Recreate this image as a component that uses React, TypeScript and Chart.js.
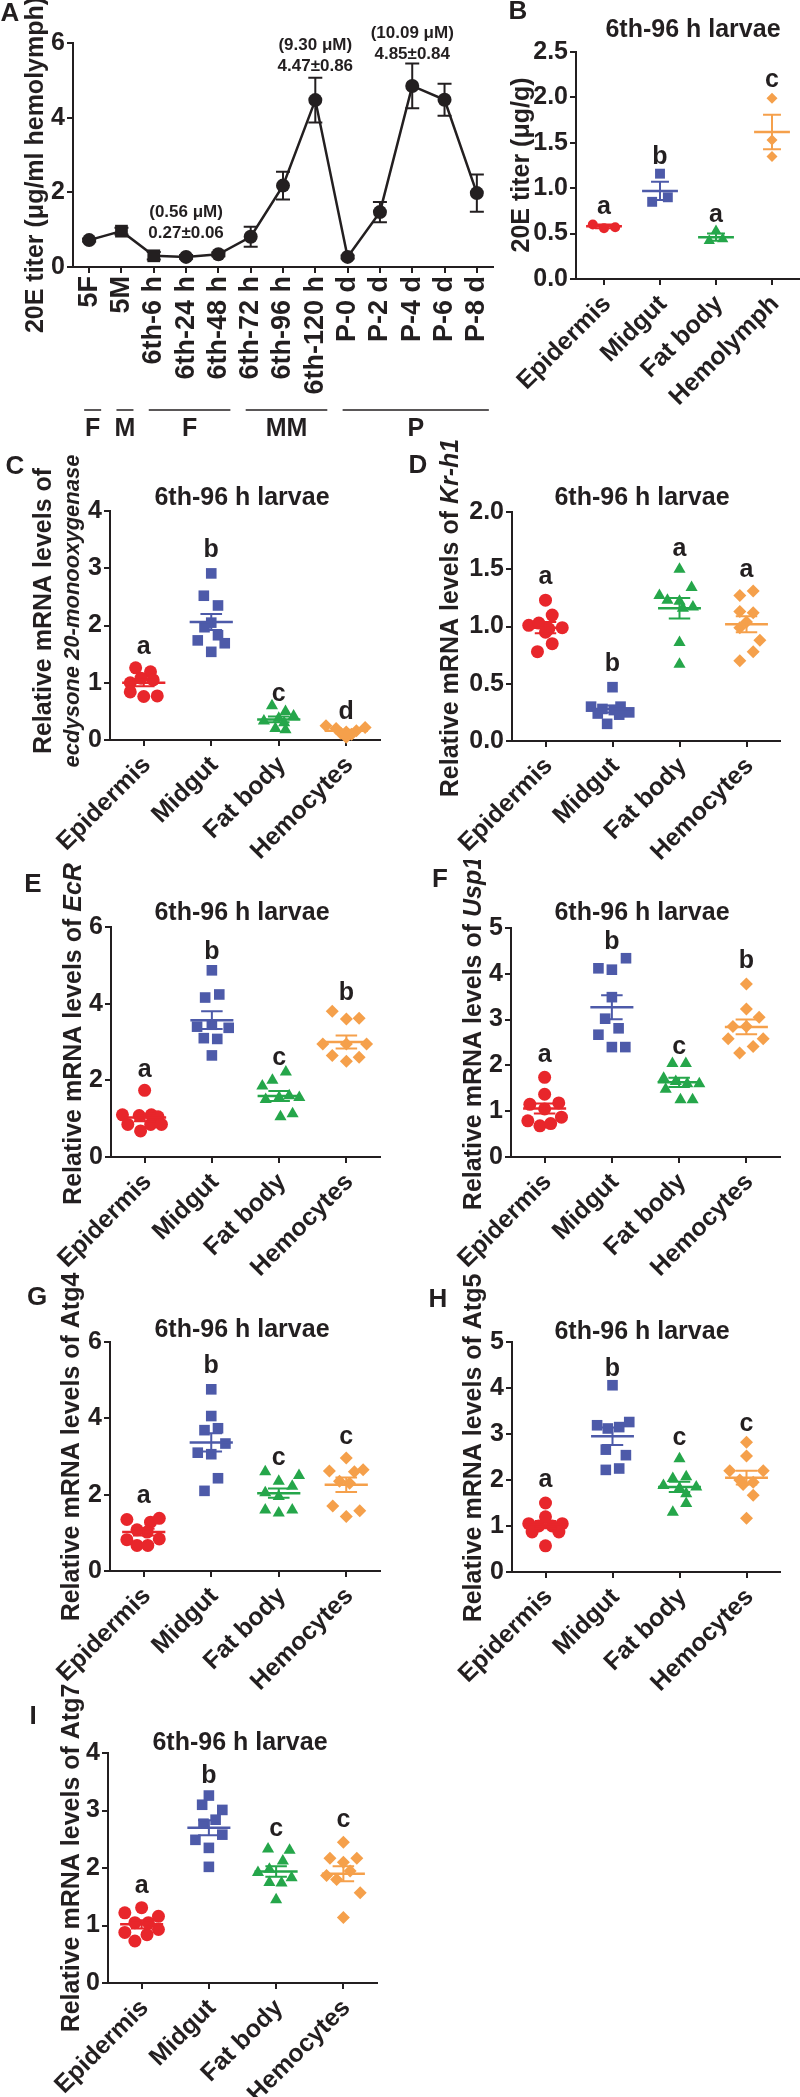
import React, { useEffect, useRef } from 'react';
import { Chart, registerables } from 'chart.js';

Chart.register(...registerables);

// ======================= DATA =======================
// Panel A – 20E titer in hemolymph across developmental stages
const stageLabels = ['5F', '5M', '6th-6 h', '6th-24 h', '6th-48 h', '6th-72 h', '6th-96 h', '6th-120 h', 'P-0 d', 'P-2 d', 'P-4 d', 'P-6 d', 'P-8 d'];
const titerMean = [0.72, 0.96, 0.3, 0.27, 0.34, 0.81, 2.18, 4.47, 0.27, 1.47, 4.85, 4.48, 1.98];
const titerSem = [0.04, 0.09, 0.1, 0.05, 0.05, 0.27, 0.37, 0.6, 0.04, 0.27, 0.6, 0.43, 0.5];
const stageGroupLabels = ['F', 'M', 'F', 'MM', 'P'];
const stageGroupFirst = [0, 1, 2, 5, 8];
const stageGroupLast = [0, 1, 4, 7, 12];
const noteStage = [3, 7, 10];
const noteConc = ['(0.56 μM)', '(9.30 μM)', '(10.09 μM)'];
const noteTiter = ['0.27±0.06', '4.47±0.86', '4.85±0.84'];
const noteLevel = [1.47, 5.95, 6.27];

// Panel B – 20E titer in tissues
const tissuesB = ['Epidermis', 'Midgut', 'Fat body', 'Hemolymph'];
const bValues = [[0.6, 0.56, 0.57], [1.16, 0.85, 0.9], [0.53, 0.42, 0.44], [1.99, 1.53, 1.35]];
const bOffsets = [[-0.2, 0, 0.2], [0, -0.14, 0.14], [0, -0.12, 0.12], [0, 0, 0]];
const bMean = [0.58, 0.97, 0.46, 1.62];
const bSem = [0.02, 0.1, 0.04, 0.19];
const bLetters = ['a', 'b', 'a', 'c'];
const bLetterY = [0.79, 1.34, 0.7, 2.19];

const tissues = ['Epidermis', 'Midgut', 'Fat body', 'Hemocytes'];

// Panel C – ecdysone 20-monooxygenase
const cValues = [
  [1.26, 1.19, 1.08, 1.05, 1.0, 0.84, 0.76, 0.77],
  [2.91, 2.52, 2.35, 2.05, 1.97, 1.83, 1.74, 1.69, 1.54],
  [0.6, 0.5, 0.42, 0.38, 0.33, 0.3, 0.2, 0.18],
  [0.25, 0.22, 0.2, 0.16, 0.14, 0.12, 0.1, 0.05],
];
const cOffsets = [
  [-0.12, 0.1, -0.04, 0.14, -0.2, -0.2, 0.0, 0.2],
  [0.0, -0.11, 0.1, 0.0, -0.1, 0.1, -0.2, 0.2, 0.0],
  [-0.1, 0.1, 0.22, 0.0, -0.22, 0.08, -0.05, 0.1],
  [-0.3, 0.28, -0.15, 0.15, 0.0, -0.08, 0.08, 0.0],
];
const cMean = [1.0, 2.06, 0.36, 0.16];
const cSem = [0.06, 0.14, 0.05, 0.02];
const cLetters = ['a', 'b', 'c', 'd'];
const cLetterY = [1.63, 3.31, 0.81, 0.49];

// Panel D – Kr-h1
const dValues = [
  [1.23, 1.1, 1.01, 1.03, 0.99, 0.98, 0.95, 0.85, 0.78],
  [0.47, 0.3, 0.28, 0.3, 0.25, 0.24, 0.23, 0.15, 0.27],
  [1.5, 1.34, 1.27, 1.23, 1.22, 1.17, 1.16, 0.86, 0.67],
  [1.27, 1.31, 1.13, 1.12, 1.04, 0.99, 0.88, 0.78, 0.7],
];
const dOffsets = [
  [0.0, 0.1, -0.25, -0.1, 0.25, 0.05, 0.0, 0.1, -0.12],
  [0.0, -0.32, -0.15, 0.12, 0.25, -0.22, 0.1, -0.08, 0.02],
  [0.0, 0.18, -0.3, -0.18, 0.0, 0.2, 0.05, 0.0, 0.0],
  [-0.1, 0.1, -0.1, 0.1, 0.0, -0.1, 0.2, 0.1, -0.1],
];
const dMean = [0.99, 0.28, 1.16, 1.02];
const dSem = [0.05, 0.03, 0.09, 0.07];
const dLetters = ['a', 'b', 'a', 'a'];
const dLetterY = [1.43, 0.67, 1.68, 1.49];

// Panel E – EcR
const eValues = [
  [1.74, 1.1, 1.08, 1.1, 1.05, 0.85, 0.68, 0.85, 0.85],
  [4.87, 4.16, 4.24, 3.4, 3.45, 3.37, 3.1, 3.08, 2.65],
  [2.22, 2.0, 1.85, 1.5, 1.55, 1.55, 1.6, 1.05, 1.13],
  [3.8, 3.6, 3.62, 2.95, 2.95, 2.95, 2.65, 2.5, 2.6],
];
const eOffsets = [
  [0.0, -0.33, -0.08, 0.1, 0.2, -0.25, -0.06, 0.09, 0.25],
  [0.0, -0.1, 0.11, -0.22, 0.0, 0.25, -0.12, 0.08, 0.0],
  [0.1, -0.1, -0.25, -0.2, 0.0, 0.3, 0.15, 0.02, 0.2],
  [-0.21, 0.0, 0.19, -0.35, 0.0, 0.3, -0.21, 0.0, 0.19],
];
const eMean = [1.03, 3.57, 1.59, 3.0];
const eSem = [0.1, 0.23, 0.13, 0.17];
const eLetters = ['a', 'b', 'c', 'b'];
const eLetterY = [2.27, 5.35, 2.58, 4.28];

// Panel F – Usp1
const fValues = [
  [1.74, 1.37, 1.15, 1.18, 1.05, 0.79, 0.87, 0.68, 0.73],
  [4.12, 4.09, 4.34, 3.49, 3.02, 2.81, 2.67, 2.4, 2.4],
  [2.04, 2.04, 1.72, 1.65, 1.6, 1.6, 1.48, 1.25, 1.25],
  [3.78, 3.23, 3.05, 2.85, 2.85, 2.58, 2.58, 2.27, 2.41],
];
const fOffsets = [
  [0.0, 0.0, -0.22, 0.21, 0.0, -0.25, 0.25, -0.07, 0.09],
  [-0.2, 0.0, 0.21, 0.0, -0.1, 0.1, -0.2, 0.0, 0.2],
  [-0.1, 0.1, -0.23, -0.05, 0.12, 0.3, -0.2, 0.02, 0.2],
  [0.0, 0.0, 0.19, -0.2, 0.0, -0.27, 0.25, -0.1, 0.1],
];
const fMean = [1.06, 3.27, 1.63, 2.84];
const fSem = [0.11, 0.26, 0.1, 0.16];
const fLetters = ['a', 'b', 'c', 'b'];
const fLetterY = [2.23, 4.7, 2.41, 4.27];

// Panel G – Atg4
const gValues = [
  [1.35, 1.28, 1.38, 1.08, 1.02, 0.82, 0.84, 0.67, 0.67],
  [4.76, 4.06, 3.69, 3.74, 3.34, 3.1, 3.06, 2.43, 2.1],
  [2.6, 2.5, 2.35, 2.22, 2.05, 1.95, 1.6, 1.52, 1.6],
  [2.96, 2.62, 2.65, 2.6, 2.35, 2.3, 1.7, 1.58, 1.43],
];
const gOffsets = [
  [-0.25, 0.1, 0.23, -0.1, 0.05, -0.25, 0.23, -0.1, 0.06],
  [0.0, 0.0, -0.1, 0.1, 0.21, -0.2, 0.0, 0.1, -0.1],
  [-0.2, 0.3, 0.0, 0.2, -0.2, 0.0, -0.2, 0.0, 0.2],
  [0.0, -0.25, 0.25, 0.12, -0.1, 0.05, -0.2, 0.2, 0.0],
];
const gMean = [1.02, 3.37, 2.04, 2.26];
const gSem = [0.09, 0.24, 0.12, 0.19];
const gLetters = ['a', 'b', 'c', 'c'];
const gLetterY = [1.97, 5.37, 2.97, 3.51];

// Panel H – Atg5
const hValues = [
  [1.5, 1.2, 1.05, 1.05, 1.0, 1.0, 0.87, 0.87, 0.57],
  [4.06, 3.19, 3.12, 3.15, 3.26, 2.66, 2.54, 2.22, 2.25],
  [2.46, 2.03, 2.07, 1.88, 1.85, 1.82, 1.7, 1.49, 1.3],
  [2.82, 2.52, 2.2, 2.2, 2.0, 1.95, 1.9, 1.67, 1.17],
];
const hOffsets = [
  [0.0, 0.0, -0.25, 0.25, -0.1, 0.1, -0.2, 0.2, 0.0],
  [0.0, -0.23, -0.07, 0.1, 0.25, -0.1, 0.2, -0.1, 0.1],
  [0.0, -0.1, 0.1, -0.24, 0.25, 0.0, 0.1, 0.1, -0.1],
  [0.0, 0.0, -0.25, 0.25, -0.1, 0.1, -0.05, 0.1, 0.0],
];
const hMean = [1.03, 2.95, 1.85, 2.05];
const hSem = [0.08, 0.19, 0.11, 0.15];
const hLetters = ['a', 'b', 'c', 'c'];
const hLetterY = [1.99, 4.42, 2.9, 3.21];

// Panel I – Atg7
const iValues = [
  [1.22, 1.31, 1.16, 1.05, 1.05, 0.88, 0.93, 0.84, 0.73],
  [3.26, 3.1, 3.01, 2.84, 2.77, 2.49, 2.58, 2.35, 2.02],
  [2.33, 2.31, 2.12, 1.92, 1.98, 1.75, 1.74, 1.83, 1.45],
  [2.45, 2.17, 2.17, 2.1, 1.87, 1.8, 1.95, 1.57, 1.14],
];
const iOffsets = [
  [-0.25, 0.0, 0.25, -0.1, 0.1, -0.25, 0.25, 0.08, -0.1],
  [0.0, -0.1, 0.2, 0.1, -0.08, -0.2, 0.2, 0.0, 0.0],
  [-0.12, 0.2, 0.1, -0.27, -0.1, -0.1, 0.08, 0.23, 0.0],
  [0.0, -0.2, 0.2, 0.0, -0.25, -0.1, 0.1, 0.25, 0.0],
];
const iMean = [1.02, 2.7, 1.94, 1.9];
const iSem = [0.07, 0.13, 0.09, 0.13];
const iLetters = ['a', 'b', 'c', 'c'];
const iLetterY = [1.68, 3.59, 2.67, 2.84];

const panelTitle = '6th-96 h larvae';

// ======================= STYLE =======================
const INK = '#231f20';
const TISSUE_COLORS = ['#e8262b', '#4d5aa9', '#25a64a', '#f5a04b'];
const TISSUE_STYLES = ['circle', 'rect', 'triangle', 'rectRot'];
const DOT_RADII = [6.5, 7.5, 7, 6.5];
const B_RADII = [5, 7, 6.5, 5.5];
const stageMarker = ['circle', 'rect', 'rect', 'circle', 'circle', 'circle', 'circle', 'circle', 'circle', 'circle', 'circle', 'circle', 'circle'];

// pick a family with Arial-Bold metrics; compensate size if none matches exactly
function pickFamily(): { family: string; scale: number } {
  const candidates = ['Liberation Sans', 'Arial', 'Arimo', 'Helvetica', 'DejaVu Sans'];
  const expected = 1144.8; // Arial Bold width of the probe at 100px
  const probe = 'Relative mRNA levels of';
  try {
    const c = document.createElement('canvas');
    const ctx = c.getContext('2d');
    if (!ctx) return { family: '"Liberation Sans", Arial, sans-serif', scale: 1 };
    let best = { family: candidates[0], ratio: 0 };
    for (const f of candidates) {
      ctx.font = `bold 100px "${f}", monospace`;
      const r = ctx.measureText(probe).width / expected;
      if (Math.abs(r - 1) < 0.03) return { family: `"${f}", Arial, sans-serif`, scale: 1 };
      if (Math.abs(r - 1) < Math.abs(best.ratio - 1)) best = { family: f, ratio: r };
    }
    return { family: `"${best.family}", Arial, sans-serif`, scale: best.ratio > 0 ? 1 / best.ratio : 1 };
  } catch (e) {
    return { family: '"Liberation Sans", Arial, sans-serif', scale: 1 };
  }
}
const PICK = pickFamily();
const FAMILY = PICK.family;
const S = (n: number) => Math.round(n * PICK.scale * 10) / 10;

const cssFont = (size: number, italic = false) => `${italic ? 'italic ' : ''}bold ${S(size)}px ${FAMILY}`;
const tickFont = { family: FAMILY, size: S(25), weight: 'bold' as const };
const stageTickFont = { family: FAMILY, size: S(27), weight: 'bold' as const };

type Part = { text: string; italic?: boolean };

function drawRotated(ctx: CanvasRenderingContext2D, parts: Part[], cx: number, cy: number, size: number) {
  ctx.save();
  ctx.translate(cx, cy);
  ctx.rotate(-Math.PI / 2);
  ctx.textAlign = 'left';
  ctx.textBaseline = 'middle';
  ctx.fillStyle = INK;
  const widths = parts.map((p) => {
    ctx.font = cssFont(size, p.italic);
    return ctx.measureText(p.text).width;
  });
  const total = widths.reduce((a, b) => a + b, 0);
  let x = -total / 2;
  parts.forEach((p, i) => {
    ctx.font = cssFont(size, p.italic);
    ctx.fillText(p.text, x, 0);
    x += widths[i];
  });
  ctx.restore();
}

const axisGrid = { drawOnChartArea: false, drawTicks: true, tickLength: 6, color: INK, lineWidth: 2 };
const axisBorder = { display: true, color: INK, width: 2 };

// ======================= PANEL A =======================
function StagePanel() {
  const ref = useRef<HTMLCanvasElement | null>(null);
  useEffect(() => {
    const canvas = ref.current;
    if (!canvas) return;
    const box = { x: 0, y: 0, w: 545, h: 445 };
    const area = { l: 73, r: 493, t: 43, b: 267 };
    const overlay = {
      id: 'stageOverlay',
      beforeDatasetsDraw(chart: any) {
        const { ctx } = chart;
        const xs = chart.scales.x;
        const ys = chart.scales.y;
        ctx.save();
        ctx.strokeStyle = INK;
        ctx.lineWidth = 2;
        titerMean.forEach((m, i) => {
          const px = xs.getPixelForValue(i);
          const top = ys.getPixelForValue(m + titerSem[i]);
          const bot = ys.getPixelForValue(m - titerSem[i]);
          ctx.beginPath();
          ctx.moveTo(px, top);
          ctx.lineTo(px, bot);
          ctx.moveTo(px - 7, top);
          ctx.lineTo(px + 7, top);
          ctx.moveTo(px - 7, bot);
          ctx.lineTo(px + 7, bot);
          ctx.stroke();
        });
        ctx.restore();
      },
      afterDraw(chart: any) {
        const { ctx } = chart;
        const xs = chart.scales.x;
        const ys = chart.scales.y;
        ctx.save();
        ctx.fillStyle = INK;
        ctx.textAlign = 'center';
        ctx.textBaseline = 'middle';
        ctx.font = cssFont(17);
        noteStage.forEach((s, k) => {
          const px = xs.getPixelForValue(s);
          const py = ys.getPixelForValue(noteLevel[k]);
          ctx.fillText(noteConc[k], px, py);
          ctx.fillText(noteTiter[k], px, py + 21);
        });
        ctx.strokeStyle = INK;
        ctx.lineWidth = 1.5;
        ctx.font = cssFont(25);
        stageGroupLabels.forEach((g, k) => {
          const x0 = xs.getPixelForValue(stageGroupFirst[k]) - 5;
          const x1 = xs.getPixelForValue(stageGroupLast[k]) + 12;
          ctx.beginPath();
          ctx.moveTo(x0, 410 - box.y);
          ctx.lineTo(x1, 410 - box.y);
          ctx.stroke();
          ctx.fillText(g, (x0 + x1) / 2, 429 - box.y);
        });
        ctx.font = cssFont(26);
        ctx.fillText('A', 10 - box.x, 14 - box.y);
        ctx.restore();
        drawRotated(ctx, [{ text: '20E titer (μg/ml hemolymph)' }], 36 - box.x, 165 - box.y, 25);
      },
    };
    const chart = new Chart(canvas, {
      type: 'line',
      data: {
        labels: stageLabels,
        datasets: [
          {
            data: titerMean,
            borderColor: INK,
            borderWidth: 2.5,
            tension: 0,
            pointStyle: stageMarker as any,
            pointRadius: stageMarker.map((s) => (s === 'rect' ? 9 : 7)),
            pointBackgroundColor: INK,
            pointBorderColor: INK,
            pointBorderWidth: 0,
            clip: false as any,
          },
        ],
      },
      options: {
        animation: false,
        responsive: false,
        devicePixelRatio: 1,
        layout: { padding: { left: 0, top: area.t - box.y, right: box.x + box.w - area.r, bottom: 0 } },
        plugins: { legend: { display: false }, tooltip: { enabled: false } },
        scales: {
          x: {
            type: 'category',
            offset: true,
            afterFit: (s: any) => {
              s.height = box.y + box.h - area.b;
            },
            ticks: { autoSkip: false, minRotation: 90, maxRotation: 90, font: stageTickFont, color: INK, padding: 3 },
            grid: { ...axisGrid, offset: false },
            border: axisBorder,
          },
          y: {
            min: 0,
            max: 6,
            afterFit: (s: any) => {
              s.width = area.l - box.x;
            },
            ticks: { stepSize: 2, font: tickFont, color: INK, padding: 2 },
            grid: axisGrid,
            border: axisBorder,
          },
        },
      } as any,
      plugins: [overlay],
    });
    return () => chart.destroy();
  }, []);
  return (
    <canvas ref={ref} width={545} height={445} style={{ position: 'absolute', left: 0, top: 0, width: 545, height: 445 }} />
  );
}

// ======================= DOT PANELS =======================
type DotSpec = {
  box: { x: number; y: number; w: number; h: number };
  area: { l: number; r: number; t: number; b: number };
  categories: string[];
  values: number[][];
  offsets: number[][];
  mean: number[];
  sem: number[];
  letters: string[];
  letterY: number[];
  yMax: number;
  yStep: number;
  yDecimals: number;
  radii: number[];
  title: { x: number; y: number };
  panel: { text: string; x: number; y: number };
  yTitle: { x: number; size: number; parts: Part[] }[];
  yTitleY: number;
};

function DotPanel({ spec }: { spec: DotSpec }) {
  const ref = useRef<HTMLCanvasElement | null>(null);
  useEffect(() => {
    const canvas = ref.current;
    if (!canvas) return;
    const { box, area } = spec;
    const X = (px: number) => px - box.x;
    const Y = (py: number) => py - box.y;
    const datasets = spec.values.map((vals, g) => ({
      label: spec.categories[g],
      data: vals.map((v, k) => ({ x: g + spec.offsets[g][k], y: v })),
      pointStyle: TISSUE_STYLES[g],
      pointRadius: spec.radii[g],
      pointBackgroundColor: TISSUE_COLORS[g],
      pointBorderColor: TISSUE_COLORS[g],
      pointBorderWidth: 0,
      showLine: false,
      clip: false as any,
    }));
    const overlay = {
      id: 'dotOverlay',
      afterDatasetsDraw(chart: any) {
        const { ctx } = chart;
        const xs = chart.scales.x;
        const ys = chart.scales.y;
        const unit = xs.getPixelForValue(1) - xs.getPixelForValue(0);
        ctx.save();
        spec.mean.forEach((m, g) => {
          const cx = xs.getPixelForValue(g);
          const pm = ys.getPixelForValue(m);
          const pt = ys.getPixelForValue(m + spec.sem[g]);
          const pb = ys.getPixelForValue(m - spec.sem[g]);
          ctx.strokeStyle = TISSUE_COLORS[g];
          ctx.lineWidth = 2.5;
          ctx.beginPath();
          ctx.moveTo(cx - 0.32 * unit, pm);
          ctx.lineTo(cx + 0.32 * unit, pm);
          ctx.stroke();
          ctx.lineWidth = 2;
          ctx.beginPath();
          ctx.moveTo(cx, pt);
          ctx.lineTo(cx, pb);
          ctx.moveTo(cx - 0.16 * unit, pt);
          ctx.lineTo(cx + 0.16 * unit, pt);
          ctx.moveTo(cx - 0.16 * unit, pb);
          ctx.lineTo(cx + 0.16 * unit, pb);
          ctx.stroke();
        });
        ctx.restore();
      },
      afterDraw(chart: any) {
        const { ctx } = chart;
        const xs = chart.scales.x;
        const ys = chart.scales.y;
        ctx.save();
        ctx.fillStyle = INK;
        // category labels along the x axis, rotated 45°, ending at their tick
        ctx.font = cssFont(25);
        ctx.textAlign = 'right';
        ctx.textBaseline = 'alphabetic';
        spec.categories.forEach((c, i) => {
          ctx.save();
          ctx.translate(xs.getPixelForValue(i) + 8, xs.top + 26);
          ctx.rotate(-Math.PI / 4);
          ctx.fillText(c, 0, 0);
          ctx.restore();
        });
        ctx.textAlign = 'center';
        ctx.textBaseline = 'middle';
        spec.letters.forEach((L, g) => {
          ctx.fillText(L, xs.getPixelForValue(g), ys.getPixelForValue(spec.letterY[g]));
        });
        ctx.fillText(panelTitle, X(spec.title.x), Y(spec.title.y));
        ctx.font = cssFont(26);
        ctx.fillText(spec.panel.text, X(spec.panel.x), Y(spec.panel.y));
        ctx.restore();
        spec.yTitle.forEach((line) => drawRotated(ctx, line.parts, X(line.x), Y(spec.yTitleY), line.size));
      },
    };
    const chart = new Chart(canvas, {
      type: 'scatter',
      data: { datasets },
      options: {
        animation: false,
        responsive: false,
        devicePixelRatio: 1,
        layout: { padding: { left: 0, top: area.t - box.y, right: box.x + box.w - area.r, bottom: 0 } },
        plugins: { legend: { display: false }, tooltip: { enabled: false } },
        scales: {
          x: {
            type: 'linear',
            min: -0.5,
            max: 3.5,
            afterBuildTicks: (s: any) => {
              s.ticks = spec.categories.map((_, i) => ({ value: i }));
            },
            afterFit: (s: any) => {
              s.height = box.y + box.h - area.b;
            },
            ticks: { display: false },
            grid: axisGrid,
            border: axisBorder,
          },
          y: {
            min: 0,
            max: spec.yMax,
            afterFit: (s: any) => {
              s.width = area.l - box.x;
            },
            ticks: {
              stepSize: spec.yStep,
              font: tickFont,
              color: INK,
              padding: 2,
              callback: (v: any) => Number(v).toFixed(spec.yDecimals),
            },
            grid: axisGrid,
            border: axisBorder,
          },
        },
      } as any,
      plugins: [overlay],
    });
    return () => chart.destroy();
  }, [spec]);
  const { box } = spec;
  return (
    <canvas
      ref={ref}
      width={box.w}
      height={box.h}
      style={{ position: 'absolute', left: box.x, top: box.y, width: box.w, height: box.h }}
    />
  );
}

const rel = (gene: string, italic: boolean): Part[] => [{ text: 'Relative mRNA levels of ' }, { text: gene, italic }];

const specB: DotSpec = {
  box: { x: 490, y: 0, w: 330, h: 445 },
  area: { l: 576, r: 800, t: 52, b: 279 },
  categories: tissuesB,
  values: bValues,
  offsets: bOffsets,
  mean: bMean,
  sem: bSem,
  letters: bLetters,
  letterY: bLetterY,
  yMax: 2.5,
  yStep: 0.5,
  yDecimals: 1,
  radii: B_RADII,
  title: { x: 693, y: 30 },
  panel: { text: 'B', x: 518, y: 12 },
  yTitle: [{ x: 522, size: 25, parts: [{ text: '20E titer (μg/g)' }] }],
  yTitleY: 165,
};

const specC: DotSpec = {
  box: { x: 0, y: 440, w: 400, h: 440 },
  area: { l: 110, r: 380, t: 511, b: 740 },
  categories: tissues,
  values: cValues,
  offsets: cOffsets,
  mean: cMean,
  sem: cSem,
  letters: cLetters,
  letterY: cLetterY,
  yMax: 4,
  yStep: 1,
  yDecimals: 0,
  radii: DOT_RADII,
  title: { x: 242, y: 498 },
  panel: { text: 'C', x: 15, y: 467 },
  yTitle: [
    { x: 44, size: 25, parts: [{ text: 'Relative mRNA levels of' }] },
    { x: 73, size: 22, parts: [{ text: 'ecdysone 20-monooxygenase', italic: true }] },
  ],
  yTitleY: 611,
};

const specD: DotSpec = {
  box: { x: 400, y: 440, w: 420, h: 440 },
  area: { l: 512, r: 780, t: 512, b: 741 },
  categories: tissues,
  values: dValues,
  offsets: dOffsets,
  mean: dMean,
  sem: dSem,
  letters: dLetters,
  letterY: dLetterY,
  yMax: 2,
  yStep: 0.5,
  yDecimals: 1,
  radii: DOT_RADII,
  title: { x: 642, y: 498 },
  panel: { text: 'D', x: 418, y: 466 },
  yTitle: [{ x: 451, size: 25, parts: rel('Kr-h1', true) }],
  yTitleY: 618,
};

const specE: DotSpec = {
  box: { x: 0, y: 860, w: 400, h: 440 },
  area: { l: 111, r: 380, t: 927, b: 1157 },
  categories: tissues,
  values: eValues,
  offsets: eOffsets,
  mean: eMean,
  sem: eSem,
  letters: eLetters,
  letterY: eLetterY,
  yMax: 6,
  yStep: 2,
  yDecimals: 0,
  radii: DOT_RADII,
  title: { x: 242, y: 913 },
  panel: { text: 'E', x: 33, y: 885 },
  yTitle: [{ x: 74, size: 25, parts: rel('EcR', true) }],
  yTitleY: 1034,
};

const specF: DotSpec = {
  box: { x: 400, y: 860, w: 420, h: 440 },
  area: { l: 511, r: 780, t: 928, b: 1157 },
  categories: tissues,
  values: fValues,
  offsets: fOffsets,
  mean: fMean,
  sem: fSem,
  letters: fLetters,
  letterY: fLetterY,
  yMax: 5,
  yStep: 1,
  yDecimals: 0,
  radii: DOT_RADII,
  title: { x: 642, y: 913 },
  panel: { text: 'F', x: 440, y: 880 },
  yTitle: [{ x: 474, size: 25, parts: rel('Usp1', true) }],
  yTitleY: 1033,
};

const specG: DotSpec = {
  box: { x: 0, y: 1260, w: 400, h: 440 },
  area: { l: 110, r: 380, t: 1342, b: 1571 },
  categories: tissues,
  values: gValues,
  offsets: gOffsets,
  mean: gMean,
  sem: gSem,
  letters: gLetters,
  letterY: gLetterY,
  yMax: 6,
  yStep: 2,
  yDecimals: 0,
  radii: DOT_RADII,
  title: { x: 242, y: 1330 },
  panel: { text: 'G', x: 37, y: 1298 },
  yTitle: [{ x: 72, size: 25, parts: rel('Atg4', false) }],
  yTitleY: 1447,
};

const specH: DotSpec = {
  box: { x: 400, y: 1260, w: 420, h: 440 },
  area: { l: 512, r: 780, t: 1342, b: 1572 },
  categories: tissues,
  values: hValues,
  offsets: hOffsets,
  mean: hMean,
  sem: hSem,
  letters: hLetters,
  letterY: hLetterY,
  yMax: 5,
  yStep: 1,
  yDecimals: 0,
  radii: DOT_RADII,
  title: { x: 642, y: 1332 },
  panel: { text: 'H', x: 438, y: 1300 },
  yTitle: [{ x: 474, size: 25, parts: rel('Atg5', false) }],
  yTitleY: 1448,
};

const specI: DotSpec = {
  box: { x: 0, y: 1680, w: 400, h: 417 },
  area: { l: 108, r: 377, t: 1753, b: 1983 },
  categories: tissues,
  values: iValues,
  offsets: iOffsets,
  mean: iMean,
  sem: iSem,
  letters: iLetters,
  letterY: iLetterY,
  yMax: 4,
  yStep: 1,
  yDecimals: 0,
  radii: DOT_RADII,
  title: { x: 240, y: 1743 },
  panel: { text: 'I', x: 33, y: 1717 },
  yTitle: [{ x: 72, size: 25, parts: rel('Atg7', false) }],
  yTitleY: 1858,
};

const dotSpecs = [specB, specC, specD, specE, specF, specG, specH, specI];

export default function App() {
  useEffect(() => {
    document.body.style.margin = '0';
    document.body.style.background = '#ffffff';
  }, []);
  return (
    <div style={{ position: 'absolute', left: 0, top: 0, width: 800, height: 2097, overflow: 'hidden', background: '#ffffff' }}>
      <StagePanel />
      {dotSpecs.map((s) => (
        <DotPanel key={s.panel.text} spec={s} />
      ))}
    </div>
  );
}
